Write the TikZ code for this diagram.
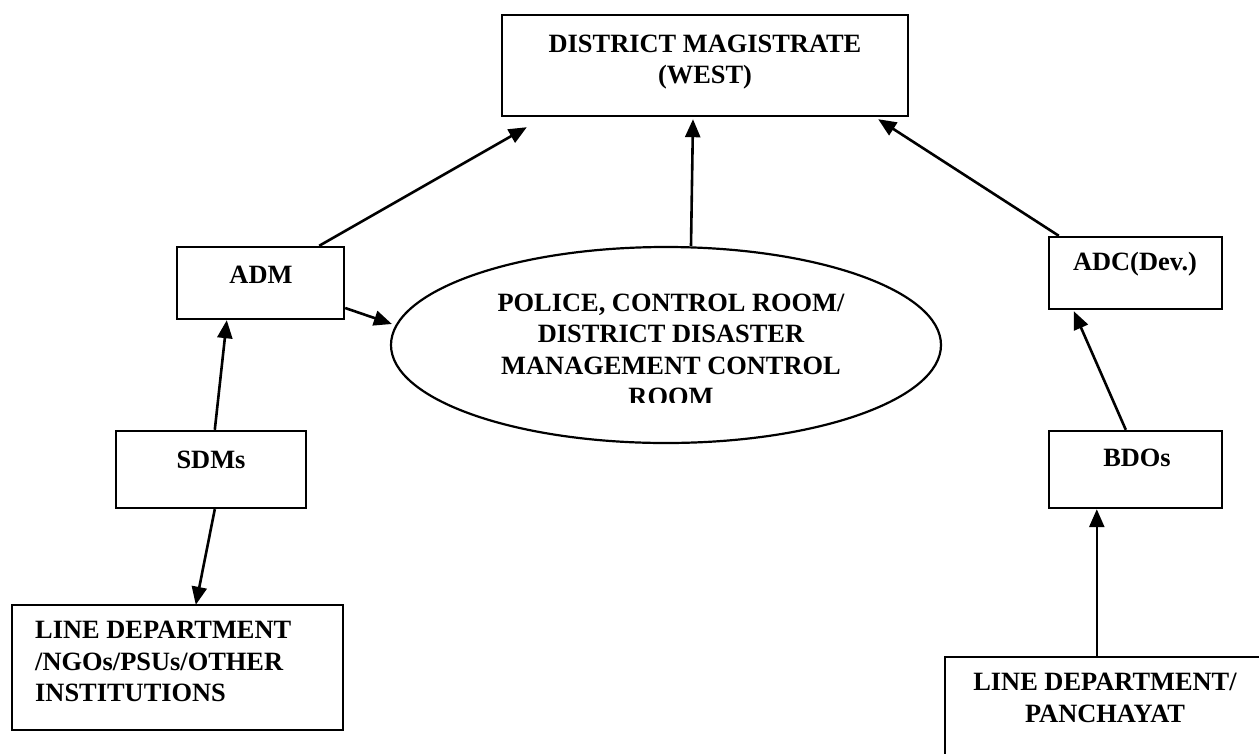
\documentclass[tikz,border=0pt]{standalone}
\usepackage{fontspec}
\setmainfont{Liberation Serif}
\usetikzlibrary{arrows.meta,shapes.geometric,fit}

\begin{document}
\begin{tikzpicture}
    [ x=1pt, y=-1pt
    , every node/.style={font=\fontsize{26.4}{31.5}\selectfont\bfseries}
    , box/.style={draw, line width=2.4pt, inner sep=0pt}
    , oval/.style={draw, line width=2.2pt, ellipse, minimum width=550pt, minimum height=196pt}
    , lbl/.style={align=center, inner sep=0pt}
    , link/.style={line width=2.6pt, -{Triangle[length=18pt,width=15pt]}}
    ]

    \useasboundingbox (0,0) rectangle (1259,753);
    \clip (0,0) rectangle (1259,753);
    \fill [white] (0,0) rectangle (1259,753);

    % boxes
    \node (dm)    [box, fit={(502,15) (908,116)}] {};
    \node (adm)   [box, fit={(177,247) (344,319)}] {};
    \node (adc)   [box, fit={(1049,237) (1222,309)}] {};
    \node (sdm)   [box, fit={(116,431) (306,508)}] {};
    \node (bdo)   [box, fit={(1049,431) (1222,508)}] {};
    \node (lnl)   [box, fit={(12,605) (343,730)}] {};
    \node (lnr)   [box, fit={(945,657) (1265,800)}] {};
    \node (ctrl)  [oval] at (666,345) {};

    % texts
    \node (dmtxt)  [lbl] at (705,62)  {DISTRICT MAGISTRATE\\(WEST)};
    \node (admtxt) [lbl] at (261,275) {ADM};
    \node (adctxt) [lbl] at (1135,264) {ADC(Dev.)};
    \node (sdmtxt) [lbl] at (211,460) {SDMs};
    \node (bdotxt) [lbl] at (1137,458) {BDOs};
    \node (lnltxt) [lbl, align=left, anchor=north west] at (35,621)
        {LINE DEPARTMENT\\/NGOs/PSUs/OTHER\\INSTITUTIONS};
    \node (lnrtxt) [lbl] at (1105,698) {LINE DEPARTMENT/\\PANCHAYAT};
    \begin{scope}
        % the text box is cut off at the bottom
        \clip (380,240) rectangle (950,402);
        \node (ctrltxt) [lbl] at (671,350)
            {POLICE, CONTROL ROOM/\\DISTRICT DISASTER\\MANAGEMENT CONTROL\\ROOM};
    \end{scope}

    % connectors
    \coordinate (lnrout) at ([xshift=153pt]lnr.north west);
    \draw [link] ([xshift=-26pt]adm.north east) -- ([shift={(26pt,-10pt)}]dm.south west);
    \draw [link] ([xshift=25pt]ctrl.north) -- ([shift={(-12pt,-2pt)}]dm.south);
    \draw [link] ([xshift=11pt]adc.north west) -- ([shift={(-31pt,-2pt)}]dm.south east);
    \draw [link] ([yshift=-25pt]adm.east) -- ([shift={(2pt,21pt)}]ctrl.west);
    \draw [link] ([xshift=100pt]sdm.north west) -- ([xshift=51pt]adm.south west);
    \draw [link] ([xshift=100pt]sdm.south west) -- ([shift={(185pt,-1pt)}]lnl.north west);
    \draw [link] ([xshift=78pt]bdo.north west) -- ([shift={(26pt,-1pt)}]adc.south west);
    \draw [link] (lnrout) -- (lnrout |- bdo.south);
\end{tikzpicture}
\end{document}
